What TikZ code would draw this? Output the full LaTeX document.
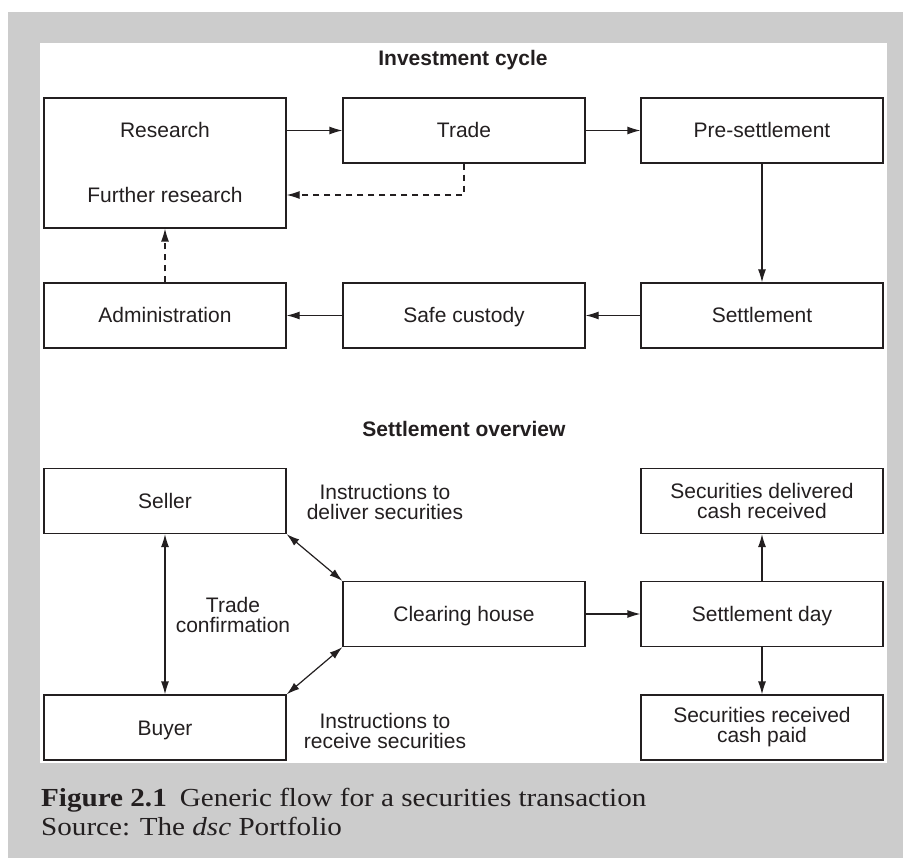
\documentclass[tikz,border=0pt]{standalone}
\usepackage{fontspec}
\setmainfont{Liberation Sans}
\newfontfamily\capfont[FakeStretch=1.12]{Liberation Serif}
\usetikzlibrary{arrows.meta}
\definecolor{panelgrey}{HTML}{CCCCCC}
\definecolor{ink}{HTML}{231F20}
\begin{document}
\begin{tikzpicture}[x=1pt,y=-1pt,
  every node/.style={text=ink},
  box/.style={draw=ink, line width=1.2pt, rectangle, minimum width=242pt,
    minimum height=65pt, inner sep=0pt, align=center,
    font=\fontsize{21}{20}\selectfont},
  oneline/.style={text height=15pt, text depth=0pt},
  lbl/.style={inner sep=0pt, align=center, font=\fontsize{21}{20}\selectfont},
  heading/.style={inner sep=0pt, anchor=base, font=\fontsize{21}{24}\selectfont\bfseries},
  tip/.tip={Latex[length=13pt,width=8pt]},
  conn/.style={draw=ink, line width=1.2pt, -tip},
  bothway/.style={draw=ink, line width=1.2pt, tip-tip},
  dashconn/.style={conn, dash pattern=on 6.5pt off 4.5pt},
  caption/.style={inner sep=0pt, anchor=base west, font=\capfont\fontsize{26}{29}\selectfont}]

\useasboundingbox (0,0) rectangle (903,858);
% frame and panel
\fill[panelgrey] (8,12) rectangle (903,858);
\fill[white] (40,43) rectangle (887,763);

% ---------- Investment cycle ----------
\node[heading] (title1) at (463,66) {Investment cycle};

\node[box, minimum height=130pt] (research) at (165,163) {};
\node[lbl, oneline] (researchlbl) at (165,130.5) {Research};
\node[lbl, oneline] (furtherlbl) at (165,195) {Further research};
\node[box, oneline] (trade) at (464,130.5) {Trade};
\node[box, oneline] (pre) at (762,130.5) {Pre-settlement};

\node[box, oneline] (admin) at (165,315.5) {Administration};
\node[box, oneline] (safe) at (464,315.5) {Safe custody};
\node[box, oneline] (settle) at (762,315.5) {Settlement};

\draw[conn] (research.east |- trade) -- (trade.west);
\draw[conn] (trade.east) -- (pre.west);
\draw[dashconn] (trade.south) |- (research.east |- furtherlbl);
\draw[conn] (pre.south) -- (settle.north);
\draw[conn] (settle.west) -- (safe.east);
\draw[conn] (safe.west) -- (admin.east);
\draw[dashconn] (admin.north) -- (research.south);

% ---------- Settlement overview ----------
\node[heading] (title2) at (464,437) {Settlement overview};

\node[box, oneline] (seller) at (165,501) {Seller};
\node[box, oneline] (clearing) at (464,614) {Clearing house};
\node[box, oneline] (buyer) at (165,727.5) {Buyer};
\node[box] (delivered) at (762,501) {Securities delivered\\cash received};
\node[box, oneline] (sday) at (762,614) {Settlement day};
\node[box] (received) at (762,727.5) {Securities received\\cash paid};

\node[lbl] (deliverlbl) at (385,502) {Instructions to\\deliver securities};
\node[lbl] (receivelbl) at (385,731) {Instructions to\\receive securities};
\node[lbl] (confirmlbl) at (233,615) {Trade\\confirmation};

\draw[bothway] (seller.south) -- (buyer.north);
\draw[bothway] (seller.south east) -- (clearing.north west);
\draw[bothway] (clearing.south west) -- (buyer.north east);
\draw[conn] (clearing.east) -- (sday.west);
\draw[conn] (sday.north) -- (delivered.south);
\draw[conn] (sday.south) -- (received.north);

% ---------- caption ----------
\node[caption] (cap1) at (41,806) {\textbf{Figure 2.1}\hspace{0.5em}Generic flow for a securities transaction};
\node[caption] (cap2) at (41,835) {Source: The \textit{dsc} Portfolio};
\end{tikzpicture}
\end{document}
